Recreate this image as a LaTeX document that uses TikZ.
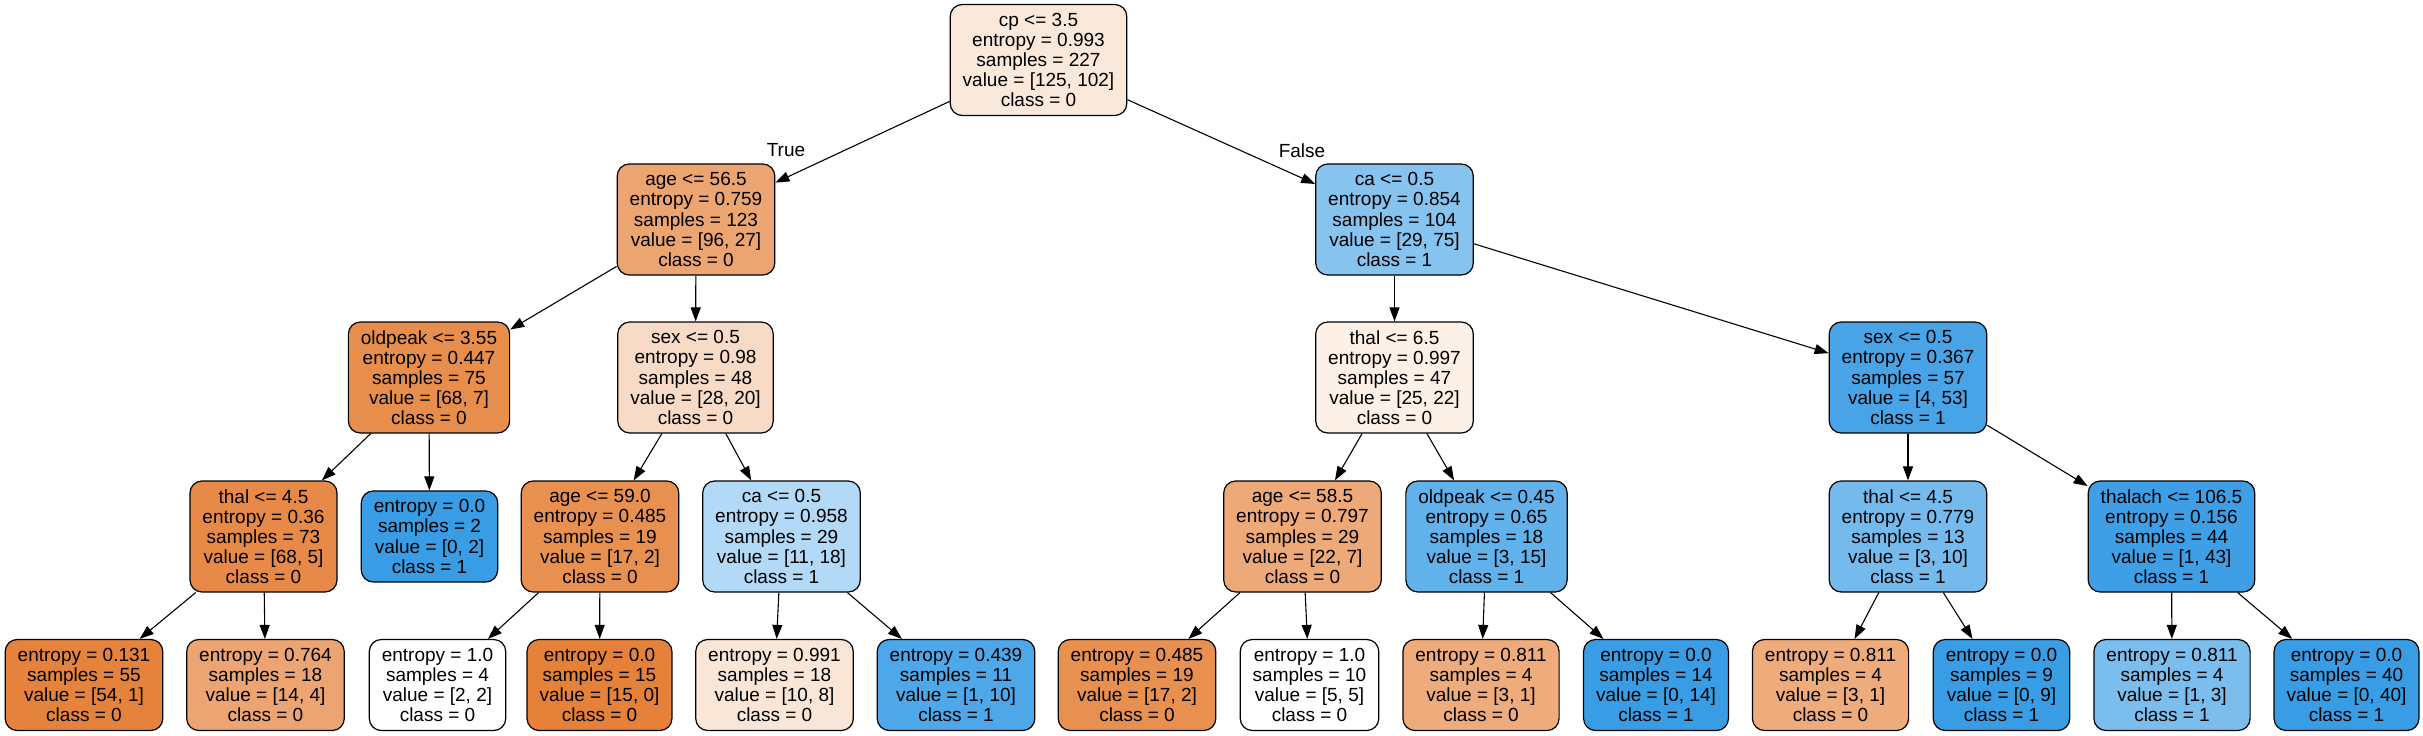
\documentclass[tikz,border=0pt]{standalone}
\usepackage{fontspec}
\setmainfont{Liberation Sans}
\usetikzlibrary{arrows.meta}

\begin{document}
\begin{tikzpicture}[%
      x=1pt, y=-1pt,
      font=\fontsize{19}{20.1}\selectfont,
      split/.style={draw, rounded corners=12pt, line width=1.2pt, align=center,
        inner xsep=12.5pt, inner ysep=0pt, minimum height=111pt},
      leaf/.style={split, minimum height=91pt},
      branch/.style={-{Triangle[length=14pt,width=10pt]}, line width=1.1pt},
      ]
      \useasboundingbox (0,0) rectangle (2423,736);

      \node [split, fill={rgb,255:red,250;green,232;blue,219}] (root) at (1038.5,60) {cp <= 3.5\\entropy = 0.993\\samples = 227\\value = [125, 102]\\class = 0};

      \node [split, fill={rgb,255:red,236;green,164;blue,113}] (age1) at (696,219.5) {age <= 56.5\\entropy = 0.759\\samples = 123\\value = [96, 27]\\class = 0};
      \node [split, fill={rgb,255:red,134;green,195;blue,239}] (ca1) at (1394.5,219.5) {ca <= 0.5\\entropy = 0.854\\samples = 104\\value = [29, 75]\\class = 1};

      \node [split, fill={rgb,255:red,232;green,142;blue,77}] (oldpeak1) at (429,377.5) {oldpeak <= 3.55\\entropy = 0.447\\samples = 75\\value = [68, 7]\\class = 0};
      \node [split, fill={rgb,255:red,248;green,219;blue,198}] (sex1) at (695.5,377.5) {sex <= 0.5\\entropy = 0.98\\samples = 48\\value = [28, 20]\\class = 0};
      \node [split, fill={rgb,255:red,252;green,240;blue,231}] (thal1) at (1394.5,377.5) {thal <= 6.5\\entropy = 0.997\\samples = 47\\value = [25, 22]\\class = 0};
      \node [split, fill={rgb,255:red,72;green,164;blue,231}] (sex2) at (1908,377.5) {sex <= 0.5\\entropy = 0.367\\samples = 57\\value = [4, 53]\\class = 1};

      \node [split, fill={rgb,255:red,231;green,138;blue,72}] (thal2) at (263.5,536.5) {thal <= 4.5\\entropy = 0.36\\samples = 73\\value = [68, 5]\\class = 0};
      \node [leaf, fill={rgb,255:red,57;green,157;blue,229}] (leafa) at (429.5,536.5) {entropy = 0.0\\samples = 2\\value = [0, 2]\\class = 1};
      \node [split, fill={rgb,255:red,232;green,144;blue,80}] (age2) at (600,536.5) {age <= 59.0\\entropy = 0.485\\samples = 19\\value = [17, 2]\\class = 0};
      \node [split, fill={rgb,255:red,178;green,217;blue,245}] (ca2) at (781.5,536.5) {ca <= 0.5\\entropy = 0.958\\samples = 29\\value = [11, 18]\\class = 1};
      \node [split, fill={rgb,255:red,237;green,169;blue,120}] (age3) at (1302.5,536.5) {age <= 58.5\\entropy = 0.797\\samples = 29\\value = [22, 7]\\class = 0};
      \node [split, fill={rgb,255:red,97;green,177;blue,234}] (oldpeak2) at (1486.5,536.5) {oldpeak <= 0.45\\entropy = 0.65\\samples = 18\\value = [3, 15]\\class = 1};
      \node [split, fill={rgb,255:red,116;green,186;blue,237}] (thal3) at (1908,536.5) {thal <= 4.5\\entropy = 0.779\\samples = 13\\value = [3, 10]\\class = 1};
      \node [split, fill={rgb,255:red,62;green,159;blue,230}] (thalach) at (2171.5,536.5) {thalach <= 106.5\\entropy = 0.156\\samples = 44\\value = [1, 43]\\class = 1};

      \node [leaf, fill={rgb,255:red,229;green,131;blue,61}] (leafb) at (84,685) {entropy = 0.131\\samples = 55\\value = [54, 1]\\class = 0};
      \node [leaf, fill={rgb,255:red,236;green,165;blue,114}] (leafc) at (265.5,685) {entropy = 0.764\\samples = 18\\value = [14, 4]\\class = 0};
      \node [leaf, fill=white] (leafd) at (437.5,685) {entropy = 1.0\\samples = 4\\value = [2, 2]\\class = 0};
      \node [leaf, fill={rgb,255:red,229;green,129;blue,57}] (leafe) at (599.5,685) {entropy = 0.0\\samples = 15\\value = [15, 0]\\class = 0};
      \node [leaf, fill={rgb,255:red,250;green,230;blue,215}] (leaff) at (774.5,685) {entropy = 0.991\\samples = 18\\value = [10, 8]\\class = 0};
      \node [leaf, fill={rgb,255:red,77;green,167;blue,232}] (leafg) at (956,685) {entropy = 0.439\\samples = 11\\value = [1, 10]\\class = 1};
      \node [leaf, fill={rgb,255:red,232;green,144;blue,80}] (leafh) at (1137,685) {entropy = 0.485\\samples = 19\\value = [17, 2]\\class = 0};
      \node [leaf, fill=white] (leafi) at (1309.5,685) {entropy = 1.0\\samples = 10\\value = [5, 5]\\class = 0};
      \node [leaf, fill={rgb,255:red,238;green,171;blue,123}] (leafj) at (1481,685) {entropy = 0.811\\samples = 4\\value = [3, 1]\\class = 0};
      \node [leaf, fill={rgb,255:red,57;green,157;blue,229}] (leafk) at (1656,685) {entropy = 0.0\\samples = 14\\value = [0, 14]\\class = 1};
      \node [leaf, fill={rgb,255:red,238;green,171;blue,123}] (leafl) at (1830.5,685) {entropy = 0.811\\samples = 4\\value = [3, 1]\\class = 0};
      \node [leaf, fill={rgb,255:red,57;green,157;blue,229}] (leafm) at (2001.5,685) {entropy = 0.0\\samples = 9\\value = [0, 9]\\class = 1};
      \node [leaf, fill={rgb,255:red,123;green,190;blue,238}] (leafn) at (2172,685) {entropy = 0.811\\samples = 4\\value = [1, 3]\\class = 1};
      \node [leaf, fill={rgb,255:red,57;green,157;blue,229}] (leafo) at (2346.5,685) {entropy = 0.0\\samples = 40\\value = [0, 40]\\class = 1};

      \draw [branch] (root) -- (age1);
      \draw [branch] (root) -- (ca1);
      \node (lbltrue) at (786,150) {True};
      \node (lblfalse) at (1302,151) {False};

      \draw [branch] (age1) -- (oldpeak1);
      \draw [branch] (age1) -- (sex1);
      \draw [branch] (ca1) -- (thal1);
      \draw [branch] (ca1) -- (sex2);

      \draw [branch] (oldpeak1) -- (thal2);
      \draw [branch] (oldpeak1) -- (leafa);
      \draw [branch] (sex1) -- (age2);
      \draw [branch] (sex1) -- (ca2);
      \draw [branch] (thal1) -- (age3);
      \draw [branch] (thal1) -- (oldpeak2);
      \draw [branch] (sex2) -- (thal3);
      \draw [branch] (sex2) -- (thalach);

      \draw [branch] (thal2) -- (leafb);
      \draw [branch] (thal2) -- (leafc);
      \draw [branch] (age2) -- (leafd);
      \draw [branch] (age2) -- (leafe);
      \draw [branch] (ca2) -- (leaff);
      \draw [branch] (ca2) -- (leafg);
      \draw [branch] (age3) -- (leafh);
      \draw [branch] (age3) -- (leafi);
      \draw [branch] (oldpeak2) -- (leafj);
      \draw [branch] (oldpeak2) -- (leafk);
      \draw [branch] (thal3) -- (leafl);
      \draw [branch] (thal3) -- (leafm);
      \draw [branch] (thalach) -- (leafn);
      \draw [branch] (thalach) -- (leafo);
\end{tikzpicture}
\end{document}
